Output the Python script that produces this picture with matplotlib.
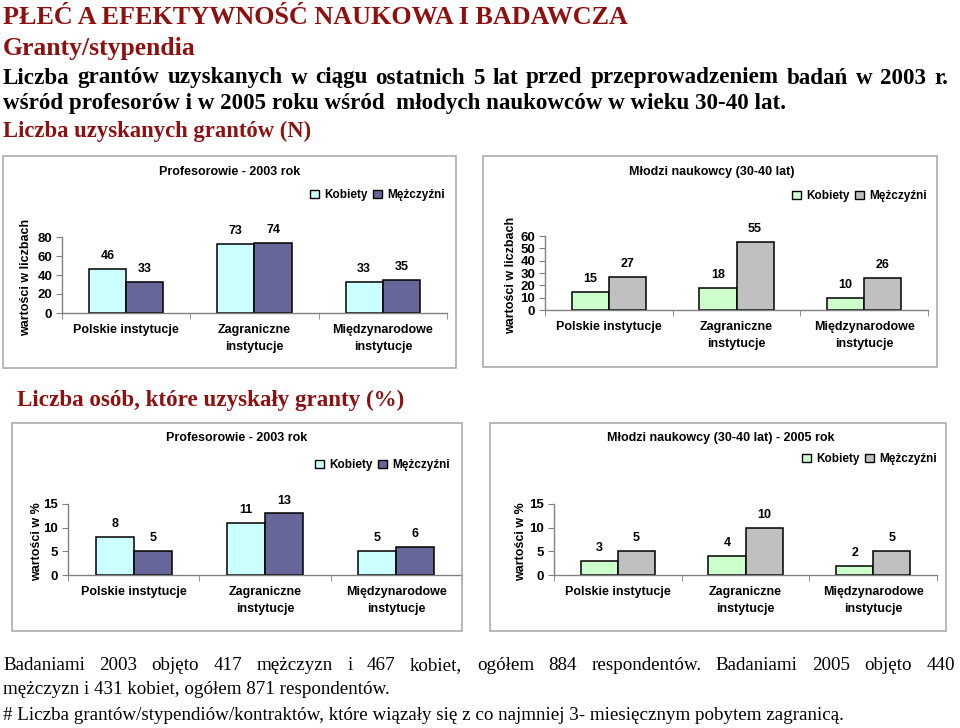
import numpy as np
import matplotlib
matplotlib.use("Agg")
import matplotlib.pyplot as plt
from matplotlib.patches import Patch, Rectangle

# ---------------- data ----------------
categories = ["Polskie instytucje", "Zagraniczne\ninstytucje", "Międzynarodowe\ninstytucje"]
series_names = ["Kobiety", "Mężczyźni"]

prof_n_women = [46, 73, 33]
prof_n_men = [33, 74, 35]
young_n_women = [15, 18, 10]
young_n_men = [27, 55, 26]

prof_pct_women = [8, 11, 5]
prof_pct_men = [5, 13, 6]
young_pct_women = [3, 4, 2]
young_pct_men = [5, 10, 5]

yticks_n_prof = [0, 20, 40, 60, 80]
yticks_n_young = [0, 10, 20, 30, 40, 50, 60]
yticks_pct = [0, 5, 10, 15]

# ---------------- figure ----------------
W, H = 960, 728
fig = plt.figure(figsize=(W / 100, H / 100), dpi=100)
fig.patch.set_facecolor("white")
R = fig.canvas.get_renderer()

SANS = ["Liberation Sans", "DejaVu Sans"]
SERIF = ["Liberation Serif", "DejaVu Serif"]
RED = "#8E1111"


def fx(px):
    return px / W


def fy(py):
    return 1 - py / H


def fit(text, x0, x1, yc, size0, **kw):
    t = fig.text(fx(x0), fy(yc), text, va="center", ha="left", fontsize=size0, **kw)
    w = t.get_window_extent(R).width
    t.set_fontsize(size0 * (x1 - x0) / w)
    return t.get_fontsize()


def justify(line, x0, x1, yc, size, **kw):
    words = line.split()
    ts = [fig.text(0, fy(yc), w, va="center", ha="left", fontsize=size, **kw) for w in words]
    ws = [t.get_window_extent(R).width for t in ts]
    gap = (x1 - x0 - sum(ws)) / (len(words) - 1)
    x = x0
    for t, w in zip(ts, ws):
        t.set_x(fx(x))
        x += w + gap


# ---------------- headings ----------------
fit("PŁEĆ A EFEKTYWNOŚĆ NAUKOWA I BADAWCZA", 3, 628, 17, 20, family=SERIF,
    fontweight="bold", color=RED)
fit("Granty/stypendia", 3, 195, 48, 20, family=SERIF, fontweight="bold", color=RED)
s4 = fit("wśród profesorów i w 2005 roku wśród  młodych naukowców w wieku 30-40 lat.",
         3, 785, 104, 15, family=SERIF, fontweight="bold", color="black")
justify("Liczba grantów uzyskanych w ciągu ostatnich 5 lat przed przeprowadzeniem badań w 2003 r.",
        3, 948, 78, s4, family=SERIF, fontweight="bold", color="black")
fit("Liczba uzyskanych grantów (N)", 3, 312, 131, 15, family=SERIF,
    fontweight="bold", color=RED)
fit("Liczba osób, które uzyskały granty (%)", 17, 405, 400, 15, family=SERIF,
    fontweight="bold", color=RED)

# ---------------- footer ----------------
sf = fit("mężczyzn i 431 kobiet, ogółem 871 respondentów.", 3, 388, 690, 13,
         family=SERIF, color="black")
justify("Badaniami  2003 objęto 417 mężczyzn i 467 kobiet, ogółem 884 respondentów. "
        "Badaniami 2005 objęto 440", 3, 955, 666, sf, family=SERIF, color="black")
fig.text(fx(3), fy(715), "# Liczba grantów/stypendiów/kontraktów, które wiązały się z co "
         "najmniej 3- miesięcznym pobytem zagranicą.", va="center", ha="left",
         fontsize=sf, family=SERIF, color="black")


# ---------------- panels ----------------
def box(l, t, r, b):
    fig.add_artist(Rectangle((fx(l), fy(b)), (r - l) / W, (b - t) / H,
                             transform=fig.transFigure, fill=False,
                             ec="#ABABAB", lw=1.2))


def panel(ax_px, women, men, colors, yticks, ylabel, ylabel_xy, title, title_xy, leg_xy):
    l, t, r, b = ax_px
    ax = fig.add_axes([fx(l), fy(b), (r - l) / W, (b - t) / H])
    x = np.arange(len(categories))
    bw = 0.29
    b1 = ax.bar(x - bw / 2, women, bw, color=colors[0], edgecolor="black", lw=1.1)
    b2 = ax.bar(x + bw / 2, men, bw, color=colors[1], edgecolor="black", lw=1.1)
    for bars in (b1, b2):
        ax.bar_label(bars, padding=5, fontsize=9, fontweight="bold", family=SANS)
    ax.set_xlim(-0.5, 2.5)
    ax.set_ylim(yticks[0], yticks[-1])
    ax.set_yticks(yticks)
    ax.set_xticks(x)
    ax.set_xticklabels(categories, fontsize=9, fontweight="bold", family=SANS,
                       linespacing=1.5)
    ax.set_xticks([-0.5, 0.5, 1.5, 2.5], minor=True)
    ax.tick_params(axis="x", which="major", length=0, pad=8)
    ax.tick_params(axis="x", which="minor", length=4, color="#808080", direction="out")
    ax.tick_params(axis="y", length=4, color="#808080", direction="out", pad=3)
    for lab in ax.get_yticklabels():
        lab.set_fontweight("bold")
        lab.set_fontsize(9.5)
        lab.set_family(SANS)
    for s in ("top", "right"):
        ax.spines[s].set_visible(False)
    for s in ("left", "bottom"):
        ax.spines[s].set_color("#808080")
        ax.spines[s].set_linewidth(1)
    ax.patch.set_alpha(0)
    fig.text(fx(ylabel_xy[0]), fy(ylabel_xy[1]), ylabel, rotation=90, ha="center",
             va="center", fontsize=9, fontweight="bold", family=SANS)
    fig.text(fx(title_xy[0]), fy(title_xy[1]), title, ha="center", va="center",
             fontsize=9, fontweight="bold", family=SANS)
    handles = [Patch(facecolor=colors[0], edgecolor="black", lw=1),
               Patch(facecolor=colors[1], edgecolor="black", lw=1)]
    fig.legend(handles, series_names, loc="center left",
               bbox_to_anchor=(fx(leg_xy[0]), fy(leg_xy[1])), ncol=2, frameon=False,
               handlelength=0.75, handleheight=0.75, handletextpad=0.45,
               columnspacing=0.5, borderpad=0, borderaxespad=0,
               prop={"family": SANS, "weight": "bold", "size": 8.5})


PROF_COLORS = ("#CCFFFF", "#666699")
YOUNG_COLORS = ("#CCFFCC", "#C0C0C0")

box(3, 156, 456, 368)
box(483, 156, 937, 367)
box(12, 423, 462, 631)
box(490, 423, 946, 631)

panel((62, 237, 447, 313), prof_n_women, prof_n_men, PROF_COLORS, yticks_n_prof,
      "wartości w liczbach", (26, 277), "Profesorowie - 2003 rok", (230, 172), (310, 195))
panel((545, 236, 928, 310), young_n_women, young_n_men, YOUNG_COLORS, yticks_n_young,
      "wartości w liczbach", (511, 275), "Młodzi naukowcy (30-40 lat)", (712, 172), (792, 196))
panel((68, 504, 462, 575), prof_pct_women, prof_pct_men, PROF_COLORS, yticks_pct,
      "wartości w %", (37, 542), "Profesorowie - 2003 rok", (237, 438), (315, 465))
panel((554, 504, 937, 575), young_pct_women, young_pct_men, YOUNG_COLORS, yticks_pct,
      "wartości w %", (521, 542), "Młodzi naukowcy (30-40 lat) - 2005 rok", (721, 438), (802, 459))

fig.savefig("out.png", dpi=100)
